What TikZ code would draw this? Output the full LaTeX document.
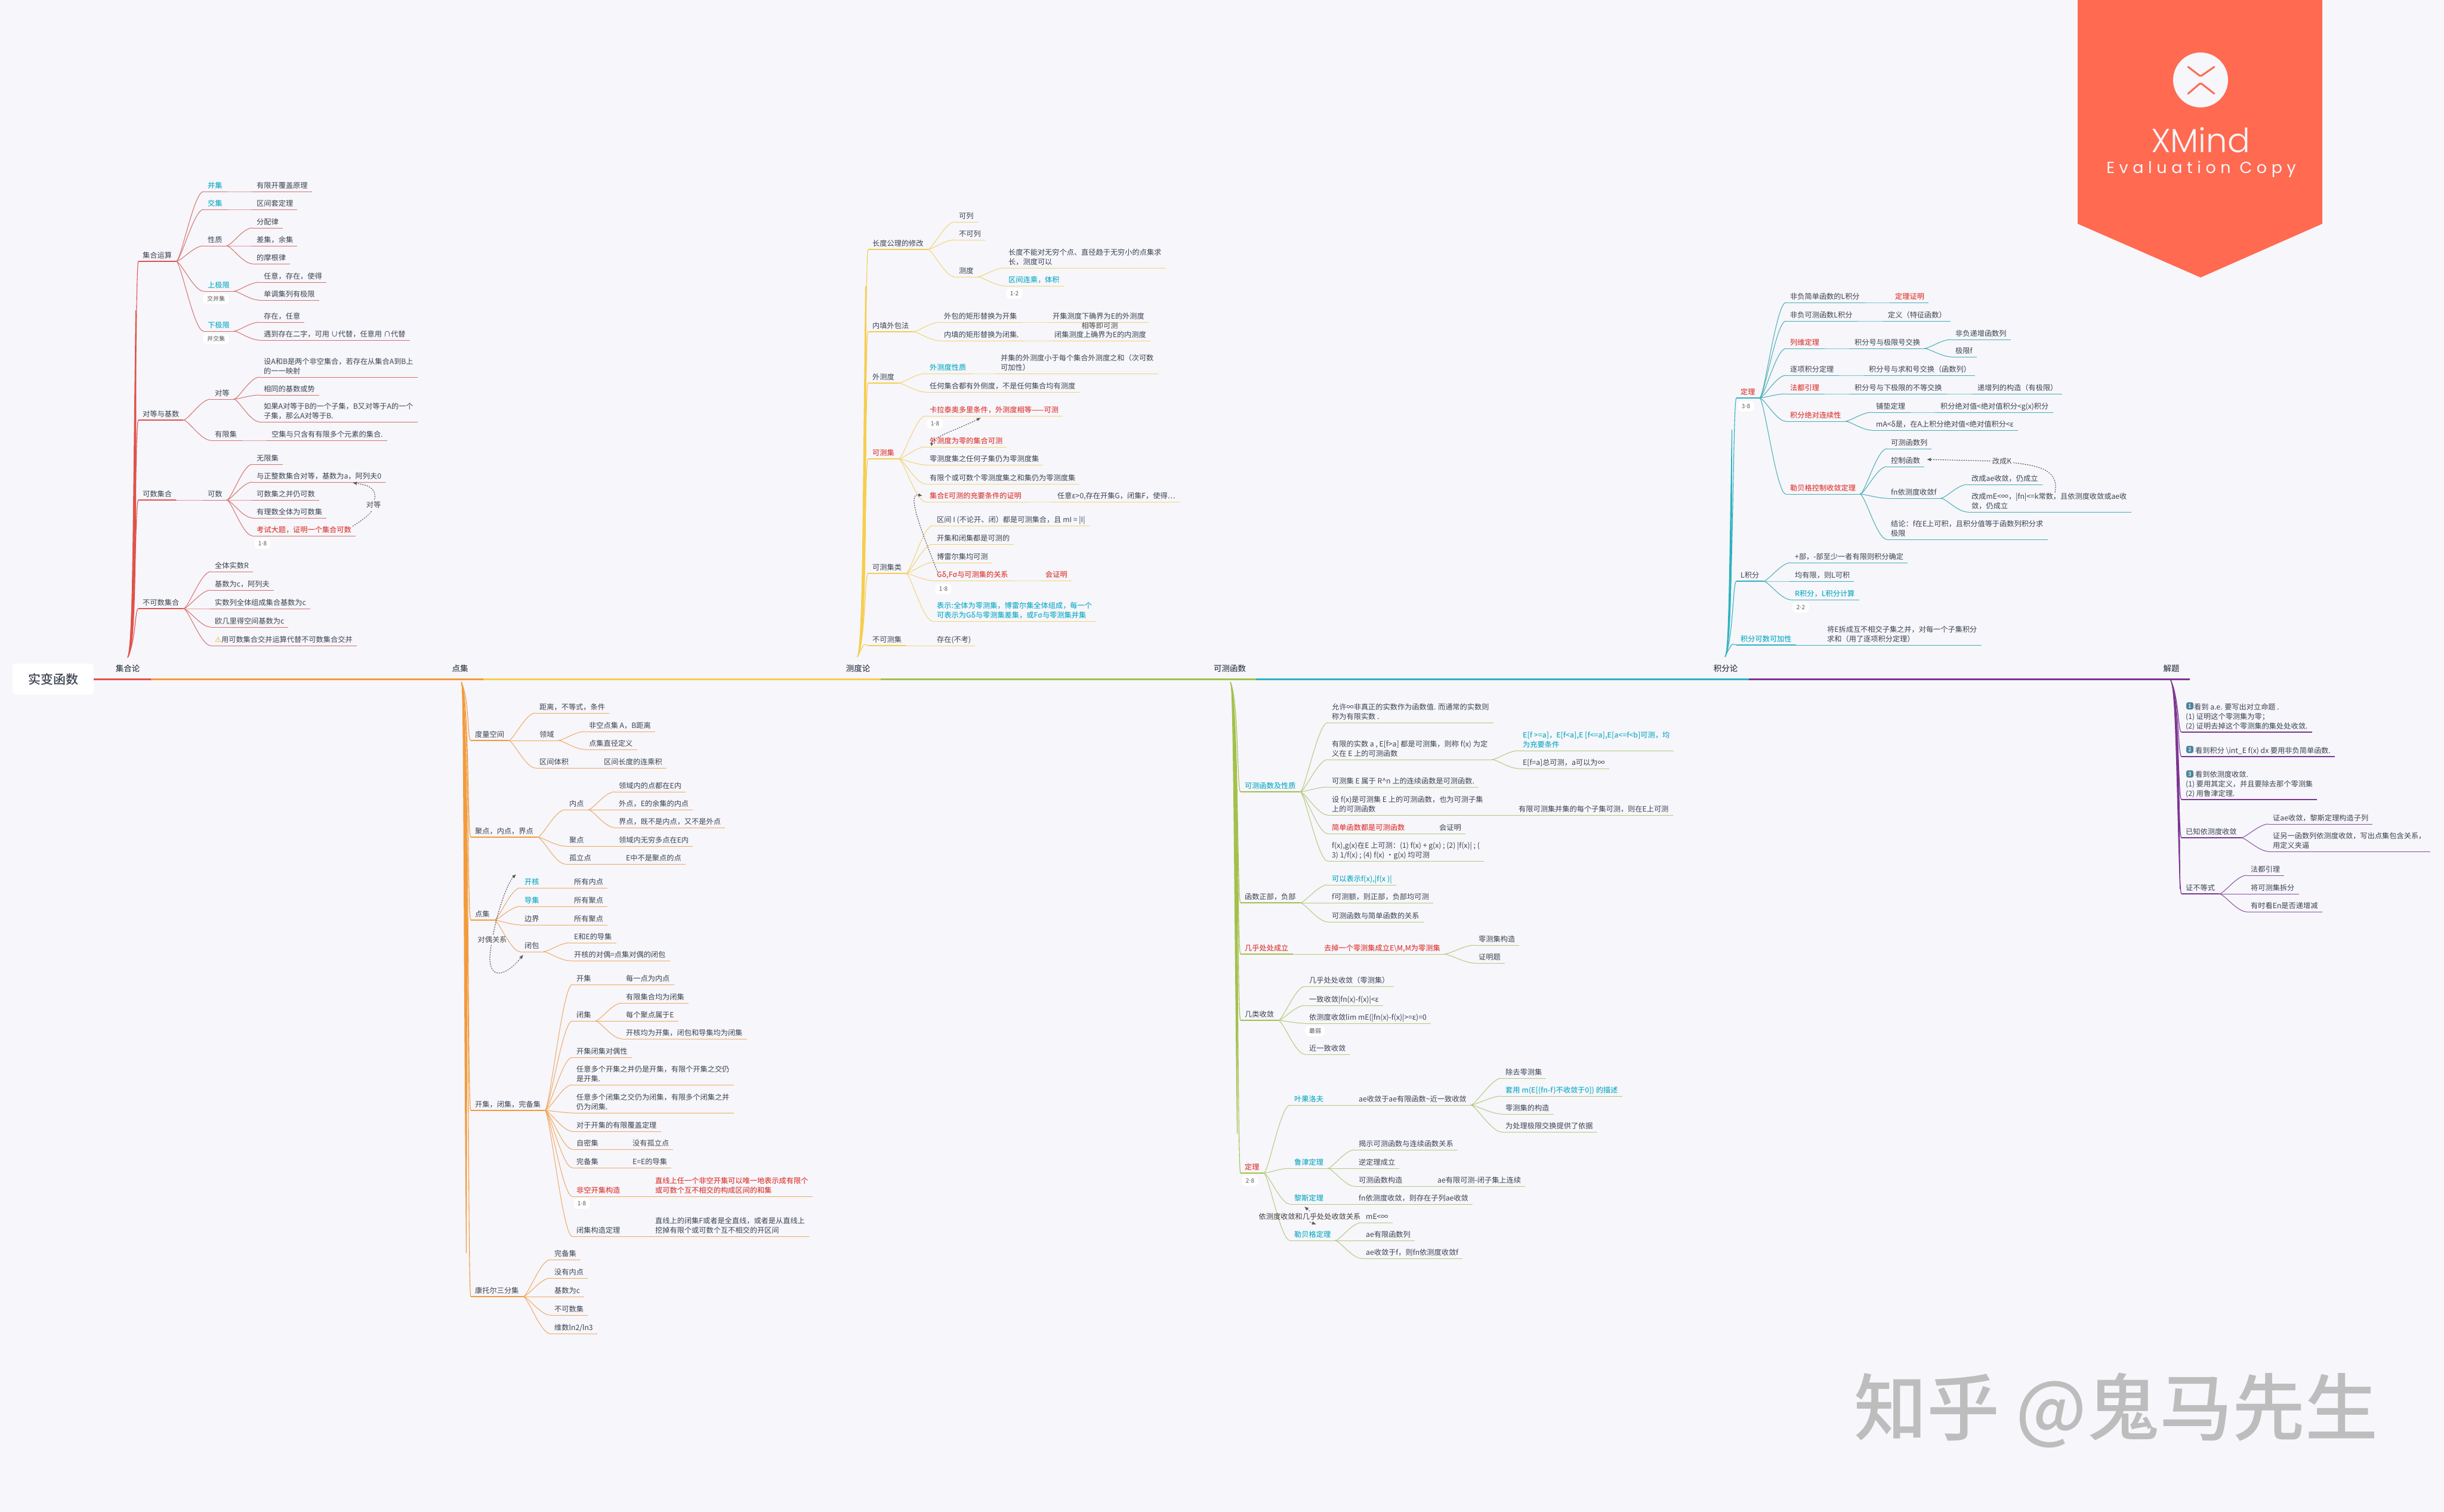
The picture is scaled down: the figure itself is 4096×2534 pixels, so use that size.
\documentclass[tikz,border=0pt]{standalone}
\usepackage{fontspec}
\setmainfont[BoldFont={Noto Sans CJK SC Medium}]{Noto Sans CJK SC}
\newfontfamily\symf{DejaVu Sans}
\newfontfamily\xmf[UprightFont={* Light}]{Poppins}
\newfontfamily\evf[LetterSpace=28]{Poppins}
\newcommand{\mdot}{{\symf·}}
\usepackage{xcolor}
\usetikzlibrary{arrows.meta, positioning}
\usetikzlibrary{calc}
\definecolor{bgc}{HTML}{F6F6FB}
\definecolor{txt}{HTML}{3C4350}
\definecolor{cyn}{HTML}{1FB0C6}
\definecolor{rdt}{HTML}{E0453F}
\definecolor{colr}{HTML}{E0524A}
\definecolor{colrl}{HTML}{D9706B}
\definecolor{colo}{HTML}{F29A3C}
\definecolor{colol}{HTML}{F2A85E}
\definecolor{coly}{HTML}{F6CD4E}
\definecolor{colyl}{HTML}{F3D372}
\definecolor{colg}{HTML}{A3C04A}
\definecolor{colgl}{HTML}{B5C97A}
\definecolor{colt}{HTML}{2FB2BD}
\definecolor{coltl}{HTML}{45AEB3}
\definecolor{colp}{HTML}{7D3491}
\definecolor{colpl}{HTML}{8D4AA0}
\definecolor{badge}{HTML}{FF6A50}
\tikzset{
  every node/.style={font=\fontsize{12.2}{16}\selectfont,text=txt},
  tp/.style={anchor=south west,inner xsep=7pt,inner ysep=4.3pt,text depth=1.2pt,align=left,
    append after command={(\tikzlastnode.south west) edge[line width=2pt,bc] (\tikzlastnode.south east)}},
  st/.style={anchor=south west,inner xsep=7pt,inner ysep=4.3pt,text depth=1.2pt,align=left,
    append after command={(\tikzlastnode.south west) edge[line width=1pt,bl] (\tikzlastnode.south east)}},
  cy/.style={text=cyn,font=\fontsize{12.2}{16}\selectfont\bfseries},
  rd/.style={text=rdt,font=\fontsize{12.2}{16}\selectfont\bfseries},
  bd/.style={fill=white,draw=black!5,rounded corners=5pt,minimum height=18pt,inner xsep=7pt,inner ysep=0pt,
    font=\fontsize{10}{12}\selectfont,text=black!65},
  lk/.style={line width=1pt,bl,to path={(\tikztostart.south east) .. controls ($(\tikztostart.south east)+(8,0)$) and ($(\tikztotarget.south west)+(-16,0)$) .. (\tikztotarget.south west)}},
  tu/.style={line width=1.1pt,bc,to path={(\tikztostart) .. controls ($(\tikztostart)+(14,-30)$) and ($(\tikztotarget.south west)+(-6,0)$) .. (\tikztotarget.south west)}},
  td/.style={line width=1.1pt,bc,to path={(\tikztostart) .. controls ($(\tikztostart)+(14,30)$) and ($(\tikztotarget.south west)+(-6,0)$) .. (\tikztotarget.south west)}},
  ml/.style={line width=3pt},
  hd/.style={font=\fontsize{13.5}{16}\selectfont\bfseries},
  rel/.style={black!65,line width=1.2pt,dash pattern=on 1.3pt off 2.6pt,line cap=round,-{Latex[length=7pt,width=6pt]}},
  rln/.style={black!65,line width=1.2pt,dash pattern=on 1.3pt off 2.6pt,line cap=round},
  nic/.style={fill=blue!30!cyan!45!black!70,rounded corners=3pt,minimum size=12pt,inner sep=0pt,text=white,font=\fontsize{9}{10}\selectfont\bfseries}
}
\begin{document}
\begin{tikzpicture}[x=1pt,y=-1pt]
\useasboundingbox (0,0) rectangle (4096,2534);
\fill[bgc] (0,0) rectangle (4096,2534);

% badge
\fill[badge] (3482,0) -- (3892,0) -- (3892,375) -- (3688,465) -- (3482,375) -- cycle;
\fill[bgc] (3688,134) circle (46);
\draw[badge,line width=3pt,line cap=round,rounded corners=2pt] (3667,112) -- (3688,128) -- (3711,112);
\draw[badge,line width=3pt,line cap=round,rounded corners=2pt] (3667,157) -- (3688,139) -- (3711,157);
\node[font=\fontsize{56}{60}\xmf,text=bgc,anchor=base](xmind) at (3688,255) {XMind};
\node[font=\fontsize{27}{30}\evf,text=bgc,anchor=base](evalc) at (3689,290) {Evaluation Copy};

% watermark
\node[font=\fontsize{122}{130}\selectfont\bfseries,text=black!26,anchor=west](zhihu) at (3104,2364) {知乎 @鬼马先生};

% main line
\node[fill=white,rounded corners=6pt,minimum width=136pt,minimum height=52pt,font=\fontsize{21}{24}\selectfont\bfseries](main) at (89,1138) {实变函数};
\node[hd](rh) at (214,1120) {集合论};
\node[hd](oh) at (771,1120) {点集};
\node[hd](yh) at (1438,1120) {测度论};
\node[hd](gh) at (2061,1120) {可测函数};
\node[hd](th) at (2892,1120) {积分论};
\node[hd](ph) at (3639,1120) {解题};
\coordinate (m1) at (253,1138);
\coordinate (m2) at (810,1138);
\coordinate (m3) at (1476,1138);
\coordinate (m4) at (2105,1138);
\coordinate (m5) at (2931,1138);
\coordinate (m6) at (3670,1138);
\draw[ml,colr] (main.east) -- (m1);
\draw[ml,colo] (m1) -- (m2);
\draw[ml,coly] (m2) -- (m3);
\draw[ml,colg] (m3) -- (m4);
\draw[ml,colt] (m4) -- (m5);
\draw[ml,colp] (m5) -- (m6);

% red
\begin{scope}
\colorlet{bc}{colr}\colorlet{bl}{colrl}
\coordinate (tipr) at (214,1102);
\fill[bc] (tipr) .. controls (222,1090) and (222,900) .. (227,520) -- (228.5,520) .. controls (228,900) and (230,1090) .. (tipr);
\node[tp](r1) at (232,438) {集合运算};
\node[st,cy](r1a) at (341,321) {并集};
\node[st](r1a1) at (423,321) {有限开覆盖原理};
\node[st,cy](r1b) at (341,351) {交集};
\node[st](r1b1) at (423,351) {区间套定理};
\node[st](r1c) at (341,412) {性质};
\node[st](r1c1) at (423,382) {分配律};
\node[st](r1c2) at (423,412) {差集，余集};
\node[st](r1c3) at (423,442) {的摩根律};
\node[st,cy](r1d) at (341,488) {上极限};
\node[bd](r1db) at (362,501) {交并集};
\node[st](r1d1) at (435,473) {任意，存在，使得};
\node[st](r1d2) at (435,503) {单调集列有极限};
\node[st,cy](r1e) at (341,555) {下极限};
\node[bd](r1eb) at (362,568) {并交集};
\node[st](r1e1) at (435,540) {存在，任意};
\node[st](r1e2) at (435,570) {遇到存在二字，可用 ∪代替，任意用 ∩代替};
\node[tp](r2) at (232,704) {对等与基数};
\node[st](r2a) at (353,669) {对等};
\node[st](r2a1) at (435,632) {设A和B是两个非空集合，若存在从集合A到B上\\的一一映射};
\node[st](r2a2) at (435,662) {相同的基数或势};
\node[st](r2a3) at (435,707) {如果A对等于B的一个子集，B又对等于A的一个\\子集，那么A对等于B.};
\node[st](r2b) at (353,738) {有限集};
\node[st](r2b1) at (448,738) {空集与只含有有限多个元素的集合.};
\node[tp](r3) at (232,838) {可数集合};
\node[st](r3a) at (341,838) {可数};
\node[st](r3a1) at (423,778) {无限集};
\node[st](r3a2) at (423,808) {与正整数集合对等，基数为a，阿列夫0};
\node[st](r3a3) at (423,838) {可数集之并仍可数};
\node[st](r3a4) at (423,868) {有理数全体为可数集};
\node[st,rd](r3a5) at (423,898) {考试大题，证明一个集合可数};
\node[bd](r3a5b) at (440,911) {1\mdot8};
\node[tp](r4) at (232,1020) {不可数集合};
\node[st](r4a) at (353,958) {全体实数R};
\node[st](r4b) at (353,989) {基数为c，阿列夫};
\node[st](r4c) at (353,1020) {实数列全体组成集合基数为c};
\node[st](r4d) at (353,1051) {欧几里得空间基数为c};
\node[st](r4e) at (353,1082) {{\symf\bfseries\color{orange!70!yellow}⚠}用可数集合交并运算代替不可数集合交并};
\draw[tu] (tipr) to (r1);
\draw[tu] (tipr) to (r2);
\draw[tu] (tipr) to (r3);
\draw[tu] (tipr) to (r4);
\draw[lk] (r1) to (r1a);
\draw[lk] (r1) to (r1b);
\draw[lk] (r1) to (r1c);
\draw[lk] (r1) to (r1d);
\draw[lk] (r1) to (r1e);
\draw[lk] (r1a) to (r1a1);
\draw[lk] (r1b) to (r1b1);
\draw[lk] (r1c) to (r1c1);
\draw[lk] (r1c) to (r1c2);
\draw[lk] (r1c) to (r1c3);
\draw[lk] (r1d) to (r1d1);
\draw[lk] (r1d) to (r1d2);
\draw[lk] (r1e) to (r1e1);
\draw[lk] (r1e) to (r1e2);
\draw[lk] (r2) to (r2a);
\draw[lk] (r2) to (r2b);
\draw[lk] (r2a) to (r2a1);
\draw[lk] (r2a) to (r2a2);
\draw[lk] (r2a) to (r2a3);
\draw[lk] (r2b) to (r2b1);
\draw[lk] (r3) to (r3a);
\draw[lk] (r3a) to (r3a1);
\draw[lk] (r3a) to (r3a2);
\draw[lk] (r3a) to (r3a3);
\draw[lk] (r3a) to (r3a4);
\draw[lk] (r3a) to (r3a5);
\draw[lk] (r4) to (r4a);
\draw[lk] (r4) to (r4b);
\draw[lk] (r4) to (r4c);
\draw[lk] (r4) to (r4d);
\draw[lk] (r4) to (r4e);
\node[text=black!70](r3rel) at (626,846) {对等};
\coordinate (r3s) at (591,882);
\coordinate (r3e) at (591,809);
\draw[rln] (r3s) .. controls (610,870) and (622,860) .. (r3rel);
\draw[rel] (r3rel) .. controls (632,815) and (610,812) .. (r3e);
\end{scope}

% orange
\begin{scope}
\colorlet{bc}{colo}\colorlet{bl}{colol}
\coordinate (tipo) at (773,1143);
\fill[bc] (tipo) .. controls (777,1160) and (776,1500) .. (781,2100) -- (782,2100) .. controls (784,1500) and (784,1160) .. (tipo);
\node[tp](o1) at (789,1241) {度量空间};
\node[st](o1a) at (897,1195) {距离，不等式，条件};
\node[st](o1b) at (897,1241) {领域};
\node[st](o1b1) at (980,1226) {非空点集 A，B距离};
\node[st](o1b2) at (980,1256) {点集直径定义};
\node[st](o1c) at (897,1287) {区间体积};
\node[st](o1c1) at (1005,1287) {区间长度的连乘积};
\node[tp](o2) at (789,1403) {聚点，内点，界点};
\node[st](o2a) at (947,1357) {内点};
\node[st](o2a1) at (1030,1327) {领域内的点都在E内};
\node[st](o2a2) at (1030,1357) {外点，E的余集的内点};
\node[st](o2a3) at (1030,1387) {界点，既不是内点，又不是外点};
\node[st](o2b) at (947,1418) {聚点};
\node[st](o2b1) at (1030,1418) {领域内无穷多点在E内};
\node[st](o2c) at (947,1448) {孤立点};
\node[st](o2c1) at (1042,1448) {E中不是聚点的点};
\node[tp](o3) at (789,1542) {点集};
\node[st,cy](o3a) at (872,1488) {开核};
\node[st](o3a1) at (955,1488) {所有内点};
\node[st,cy](o3b) at (872,1519) {导集};
\node[st](o3b1) at (955,1519) {所有聚点};
\node[st](o3c) at (872,1550) {边界};
\node[st](o3c1) at (955,1550) {所有聚点};
\node[st](o3d) at (872,1595) {闭包};
\node[st](o3d1) at (955,1580) {E和E的导集};
\node[st](o3d2) at (955,1610) {开核的对偶=点集对偶的闭包};
\node[tp](o4) at (789,1861) {开集，闭集，完备集};
\node[st](o4a) at (959,1650) {开集};
\node[st](o4a1) at (1042,1650) {每一点为内点};
\node[st](o4b) at (959,1711) {闭集};
\node[st](o4b1) at (1042,1681) {有限集合均为闭集};
\node[st](o4b2) at (1042,1711) {每个聚点属于E};
\node[st](o4b3) at (1042,1741) {开核均为开集，闭包和导集均为闭集};
\node[st](o4c) at (959,1772) {开集闭集对偶性};
\node[st](o4d) at (959,1818) {任意多个开集之并仍是开集，有限个开集之交仍\\是开集.};
\node[st](o4e) at (959,1865) {任意多个闭集之交仍为闭集，有限多个闭集之并\\仍为闭集.};
\node[st](o4f) at (959,1896) {对于开集的有限覆盖定理};
\node[st](o4g) at (959,1926) {自密集};
\node[st](o4g1) at (1053,1926) {没有孤立点};
\node[st](o4h) at (959,1957) {完备集};
\node[st](o4h1) at (1053,1957) {E=E的导集};
\node[st,rd](o4i) at (959,2005) {非空开集构造};
\node[bd](o4ib) at (975,2017) {1\mdot8};
\node[st,rd](o4i1) at (1091,2005) {直线上任一个非空开集可以唯一地表示成有限个\\或可数个互不相交的构成区间的和集};
\node[st](o4j) at (959,2072) {闭集构造定理};
\node[st](o4j1) at (1091,2072) {直线上的闭集F或者是全直线，或者是从直线上\\挖掉有限个或可数个互不相交的开区间};
\node[tp](o5) at (789,2173) {康托尔三分集};
\node[st](o5a) at (922,2111) {完备集};
\node[st](o5b) at (922,2142) {没有内点};
\node[st](o5c) at (922,2173) {基数为c};
\node[st](o5d) at (922,2204) {不可数集};
\node[st](o5e) at (922,2235) {维数ln2/ln3};
\draw[td] (tipo) to (o1);
\draw[td] (tipo) to (o2);
\draw[td] (tipo) to (o3);
\draw[td] (tipo) to (o4);
\draw[td] (tipo) to (o5);
\draw[lk] (o1) to (o1a);
\draw[lk] (o1) to (o1b);
\draw[lk] (o1) to (o1c);
\draw[lk] (o1b) to (o1b1);
\draw[lk] (o1b) to (o1b2);
\draw[lk] (o1c) to (o1c1);
\draw[lk] (o2) to (o2a);
\draw[lk] (o2) to (o2b);
\draw[lk] (o2) to (o2c);
\draw[lk] (o2a) to (o2a1);
\draw[lk] (o2a) to (o2a2);
\draw[lk] (o2a) to (o2a3);
\draw[lk] (o2b) to (o2b1);
\draw[lk] (o2c) to (o2c1);
\draw[lk] (o3) to (o3a);
\draw[lk] (o3) to (o3b);
\draw[lk] (o3) to (o3c);
\draw[lk] (o3) to (o3d);
\draw[lk] (o3a) to (o3a1);
\draw[lk] (o3b) to (o3b1);
\draw[lk] (o3c) to (o3c1);
\draw[lk] (o3d) to (o3d1);
\draw[lk] (o3d) to (o3d2);
\draw[lk] (o4) to (o4a);
\draw[lk] (o4) to (o4b);
\draw[lk] (o4) to (o4c);
\draw[lk] (o4) to (o4d);
\draw[lk] (o4) to (o4e);
\draw[lk] (o4) to (o4f);
\draw[lk] (o4) to (o4g);
\draw[lk] (o4) to (o4h);
\draw[lk] (o4) to (o4i);
\draw[lk] (o4) to (o4j);
\draw[lk] (o4a) to (o4a1);
\draw[lk] (o4b) to (o4b1);
\draw[lk] (o4b) to (o4b2);
\draw[lk] (o4b) to (o4b3);
\draw[lk] (o4g) to (o4g1);
\draw[lk] (o4h) to (o4h1);
\draw[lk] (o4i) to (o4i1);
\draw[lk] (o4j) to (o4j1);
\draw[lk] (o5) to (o5a);
\draw[lk] (o5) to (o5b);
\draw[lk] (o5) to (o5c);
\draw[lk] (o5) to (o5d);
\draw[lk] (o5) to (o5e);
\node[text=black!70](o3rel) at (825,1575) {对偶关系};
\coordinate (o3e1) at (865,1465);
\coordinate (o3e2) at (877,1600);
\draw[rel] (o3rel) .. controls (833,1530) and (850,1480) .. (o3e1);
\draw[rel] (o3rel) .. controls (812,1645) and (845,1640) .. (o3e2);
\end{scope}

% yellow
\begin{scope}
\colorlet{bc}{coly}\colorlet{bl}{colyl}
\coordinate (tipy) at (1437,1101);
\fill[bc] (tipy) .. controls (1445,1090) and (1445,900) .. (1450,480) -- (1452,480) .. controls (1452,900) and (1452,1090) .. (tipy);
\node[tp](y1) at (1455,418) {长度公理的修改};
\node[st](y1a) at (1600,372) {可列};
\node[st](y1b) at (1600,402) {不可列};
\node[st](y1c) at (1600,464) {测度};
\node[st](y1c1) at (1683,449) {长度不能对无穷个点、直径趋于无穷小的点集求\\长，测度可以};
\node[st,cy](y1c2) at (1683,479) {区间连乘，体积};
\node[bd](y1c2b) at (1700,492) {1\mdot2};
\node[tp](y2) at (1455,556) {内填外包法};
\node[st](y2a) at (1575,540) {外包的矩形替换为开集};
\node[st](y2a1) at (1757,540) {开集测度下确界为E的外测度};
\node[st](y2b) at (1575,571) {内填的矩形替换为闭集.};
\node[st](y2b1) at (1760,571) {闭集测度上确界为E的内测度};
\node[text=black!70](y2n) at (1843,546) {相等即可测};
\node[tp](y3) at (1455,642) {外测度};
\node[st,cy](y3a) at (1551,626) {外测度性质};
\node[st](y3a1) at (1670,626) {并集的外测度小于每个集合外测度之和（次可数\\可加性）};
\node[st](y3b) at (1551,657) {任何集合都有外侧度，不是任何集合均有测度};
\node[tp,rd](y4) at (1455,769) {可测集};
\node[st,rd](y4a) at (1551,697) {卡拉泰奥多里条件，外测度相等——可测};
\node[bd](y4ab) at (1567,710) {1\mdot8};
\node[st,rd](y4b) at (1551,749) {外测度为零的集合可测};
\node[st](y4c) at (1551,779) {零测度集之任何子集仍为零测度集};
\node[st](y4d) at (1551,811) {有限个或可数个零测度集之和集仍为零测度集};
\node[st,rd](y4e) at (1551,841) {集合E可测的充要条件的证明};
\node[st](y4e1) at (1765,841) {任意ε>0,存在开集G，闭集F，使得…};
\node[tp](y5) at (1455,961) {可测集类};
\node[st](y5a) at (1563,881) {区间 I (不论开、闭）都是可测集合，且 mI = |I|};
\node[st](y5b) at (1563,912) {开集和闭集都是可测的};
\node[st](y5c) at (1563,943) {博雷尔集均可测};
\node[st,rd](y5d) at (1563,973) {Gδ,Fσ与可测集的关系};
\node[bd](y5db) at (1581,987) {1\mdot8};
\node[st,rd](y5d1) at (1745,973) {会证明};
\node[st,cy](y5e) at (1563,1041) {表示:全体为零测集，博雷尔集全体组成，每一个\\可表示为Gδ与零测集差集，或Fσ与零测集并集};
\node[tp](y6) at (1455,1082) {不可测集};
\node[st](y6a) at (1563,1082) {存在(不考)};
\draw[tu] (tipy) to (y1);
\draw[tu] (tipy) to (y2);
\draw[tu] (tipy) to (y3);
\draw[tu] (tipy) to (y4);
\draw[tu] (tipy) to (y5);
\draw[tu] (tipy) to (y6);
\draw[lk] (y1) to (y1a);
\draw[lk] (y1) to (y1b);
\draw[lk] (y1) to (y1c);
\draw[lk] (y1c) to (y1c1);
\draw[lk] (y1c) to (y1c2);
\draw[lk] (y2) to (y2a);
\draw[lk] (y2) to (y2b);
\draw[lk] (y2a) to (y2a1);
\draw[lk] (y2b) to (y2b1);
\draw[lk] (y3) to (y3a);
\draw[lk] (y3) to (y3b);
\draw[lk] (y3a) to (y3a1);
\draw[lk] (y4) to (y4a);
\draw[lk] (y4) to (y4b);
\draw[lk] (y4) to (y4c);
\draw[lk] (y4) to (y4d);
\draw[lk] (y4) to (y4e);
\draw[lk] (y4e) to (y4e1);
\draw[lk] (y5) to (y5a);
\draw[lk] (y5) to (y5b);
\draw[lk] (y5) to (y5c);
\draw[lk] (y5) to (y5d);
\draw[lk] (y5) to (y5e);
\draw[lk] (y5d) to (y5d1);
\draw[lk] (y6) to (y6a);
\coordinate (y4s) at (1561,748);
\coordinate (y4t) at (1644,700);
\coordinate (y5s) at (1571,958);
\coordinate (y5t) at (1546,831);
\draw[rel,{Latex[length=5pt,width=5pt]}-{Latex[length=7pt,width=6pt]}] (y4s) .. controls (1563,732) and (1600,722) .. (y4t);
\draw[rel] (y5s) .. controls (1540,880) and (1520,825) .. (y5t);
\end{scope}

% green
\begin{scope}
\colorlet{bc}{colg}\colorlet{bl}{colgl}
\coordinate (tipg) at (2062,1143);
\fill[bc] (tipg) .. controls (2067,1160) and (2068,1500) .. (2073,1900) -- (2074,1900) .. controls (2075,1500) and (2074,1160) .. (tipg);
\node[tp,cy](g1) at (2079,1327) {可测函数及性质};
\node[st](g1a) at (2225,1211) {允许∞非真正的实数作为函数值. 而通常的实数则\\称为有限实数 .};
\node[st](g1b) at (2225,1273) {有限的实数 a , E[f>a] 都是可测集，则称 f(x) 为定\\义在 E 上的可测函数};
\node[st,cy](g1b1) at (2545,1258) {E[f >=a]，E[f<a],E [f<=a],E[a<=f<b]可测，均\\为充要条件};
\node[st](g1b2) at (2545,1288) {E[f=a]总可测，a可以为∞};
\node[st](g1c) at (2225,1319) {可测集 E 属于 R\^{}n 上的连续函数是可测函数.};
\node[st](g1d) at (2225,1366) {设 f(x)是可测集 E 上的可测函数，也为可测子集\\上的可测函数};
\node[st](g1d1) at (2538,1366) {有限可测集并集的每个子集可测，则在E上可测};
\node[st,rd](g1e) at (2225,1397) {简单函数都是可测函数};
\node[st](g1e1) at (2405,1397) {会证明};
\node[st](g1f) at (2225,1443) {f(x),g(x)在E 上可测：(1) f(x) + g(x) ; (2) |f(x)| ; (\\3) 1/f(x) ; (4) f(x) •g(x) 均可测};
\node[tp](g2) at (2079,1513) {函数正部，负部};
\node[st,cy](g2a) at (2225,1483) {可以表示f(x),|f(x )|};
\node[st](g2b) at (2225,1513) {f可测额，则正部，负部均可测};
\node[st](g2c) at (2225,1545) {可测函数与简单函数的关系};
\node[tp,rd](g3) at (2079,1599) {几乎处处成立};
\node[st,rd](g3a) at (2212,1599) {去掉一个零测集成立E\textbackslash M,M为零测集};
\node[st](g3a1) at (2471,1584) {零测集构造};
\node[st](g3a2) at (2471,1614) {证明题};
\node[tp](g4) at (2079,1710) {几类收敛};
\node[st](g4a) at (2187,1653) {几乎处处收敛（零测集）};
\node[st](g4b) at (2187,1685) {一致收敛|fn(x)-f(x)|<ε};
\node[st](g4c) at (2187,1715) {依测度收敛lim mE(|fn(x)-f(x)|>=ε)=0};
\node[bd](g4cb) at (2204,1728) {最弱};
\node[st](g4d) at (2187,1767) {近一致收敛};
\node[tp,rd](g5) at (2079,1966) {定理};
\node[bd](g5b) at (2095,1979) {2\mdot8};
\node[st,cy](g5a) at (2162,1852) {叶果洛夫};
\node[st](g5a1) at (2270,1852) {ae收敛于ae有限函数\textasciitilde 近一致收敛};
\node[st](g5a11) at (2516,1807) {除去零测集};
\node[st,cy](g5a12) at (2516,1837) {套用 m(E[(fn-f)不收敛于0]) 的描述};
\node[st](g5a13) at (2516,1867) {零测集的构造};
\node[st](g5a14) at (2516,1897) {为处理极限交换提供了依据};
\node[st,cy](g5c) at (2162,1958) {鲁津定理};
\node[st](g5c1) at (2270,1927) {揭示可测函数与连续函数关系};
\node[st](g5c2) at (2270,1958) {逆定理成立};
\node[st](g5c3) at (2270,1988) {可测函数构造};
\node[st](g5c31) at (2402,1988) {ae有限可测-闭子集上连续};
\node[st,cy](g5d) at (2162,2018) {黎斯定理};
\node[st](g5d1) at (2270,2018) {fn依测度收敛，则存在子列ae收敛};
\node[st,cy](g5e) at (2162,2079) {勒贝格定理};
\node[st](g5e1) at (2282,2049) {mE<∞};
\node[st](g5e2) at (2282,2079) {ae有限函数列};
\node[st](g5e3) at (2282,2109) {ae收敛于f，则fn依测度收敛f};
\draw[td] (tipg) to (g1);
\draw[td] (tipg) to (g2);
\draw[td] (tipg) to (g3);
\draw[td] (tipg) to (g4);
\draw[td] (tipg) to (g5);
\draw[lk] (g1) to (g1a);
\draw[lk] (g1) to (g1b);
\draw[lk] (g1) to (g1c);
\draw[lk] (g1) to (g1d);
\draw[lk] (g1) to (g1e);
\draw[lk] (g1) to (g1f);
\draw[lk] (g1b) to (g1b1);
\draw[lk] (g1b) to (g1b2);
\draw[lk] (g1d) to (g1d1);
\draw[lk] (g1e) to (g1e1);
\draw[lk] (g2) to (g2a);
\draw[lk] (g2) to (g2b);
\draw[lk] (g2) to (g2c);
\draw[lk] (g3) to (g3a);
\draw[lk] (g3a) to (g3a1);
\draw[lk] (g3a) to (g3a2);
\draw[lk] (g4) to (g4a);
\draw[lk] (g4) to (g4b);
\draw[lk] (g4) to (g4c);
\draw[lk] (g4) to (g4d);
\draw[lk] (g5) to (g5a);
\draw[lk] (g5) to (g5c);
\draw[lk] (g5) to (g5d);
\draw[lk] (g5) to (g5e);
\draw[lk] (g5a) to (g5a1);
\draw[lk] (g5a1) to (g5a11);
\draw[lk] (g5a1) to (g5a12);
\draw[lk] (g5a1) to (g5a13);
\draw[lk] (g5a1) to (g5a14);
\draw[lk] (g5c) to (g5c1);
\draw[lk] (g5c) to (g5c2);
\draw[lk] (g5c) to (g5c3);
\draw[lk] (g5c3) to (g5c31);
\draw[lk] (g5d) to (g5d1);
\draw[lk] (g5e) to (g5e1);
\draw[lk] (g5e) to (g5e2);
\draw[lk] (g5e) to (g5e3);
\node[text=black!75](g5rel) at (2195,2039) {依测度收敛和几乎处处收敛关系};
\coordinate (g5r1) at (2186,2022);
\coordinate (g5r2) at (2206,2052);
\draw[rel] (g5rel.north) -- (g5r1);
\draw[rel] (g5rel.south) -- (g5r2);
\end{scope}

% teal
\begin{scope}
\colorlet{bc}{colt}\colorlet{bl}{coltl}
\coordinate (tipt) at (2891,1101);
\fill[bc] (tipt) .. controls (2897,1090) and (2898,950) .. (2902,720) -- (2903,720) .. controls (2903,950) and (2902,1090) .. (tipt);
\node[tp,rd](t1) at (2910,667) {定理};
\node[bd](t1b) at (2926,681) {3\mdot8};
\node[st](t1a) at (2993,507) {非负简单函数的L积分};
\node[st,rd](t1a1) at (3169,507) {定理证明};
\node[st](t1c) at (2993,538) {非负可测函数L积分};
\node[st](t1c1) at (3157,538) {定义（特征函数）};
\node[st,rd](t1d) at (2993,584) {列维定理};
\node[st](t1d1) at (3101,584) {积分号与极限号交换};
\node[st](t1d11) at (3270,569) {非负递增函数列};
\node[st](t1d12) at (3270,598) {极限f};
\node[st](t1e) at (2993,629) {逐项积分定理};
\node[st](t1e1) at (3125,629) {积分号与求和号交换（函数列）};
\node[st,rd](t1f) at (2993,660) {法都引理};
\node[st](t1f1) at (3101,660) {积分号与下极限的不等交换};
\node[st](t1f2) at (3307,660) {递增列的构造（有极限）};
\node[st,rd](t1g) at (2993,706) {积分绝对连续性};
\node[st](t1g1) at (3137,691) {铺垫定理};
\node[st](t1g11) at (3245,691) {积分绝对值<绝对值积分<g(x)积分};
\node[st](t1g2) at (3137,721) {mA<δ是，在A上积分绝对值<绝对值积分<ε};
\node[st,rd](t1h) at (2993,828) {勒贝格控制收敛定理};
\node[st](t1h1) at (3162,752) {可测函数列};
\node[st](t1h2) at (3162,782) {控制函数};
\node[st](t1h3) at (3162,835) {fn依测度收敛f};
\node[st](t1h31) at (3297,812) {改成ae收敛，仍成立};
\node[st](t1h32) at (3297,858) {改成mE<∞，|fn|<=k常数，且依测度收敛或ae收\\敛，仍成立};
\node[st](t1h4) at (3162,904) {结论：f在E上可积，且积分值等于函数列积分求\\极限};
\node[tp](t2) at (2910,974) {L积分};
\node[st](t2a) at (3001,943) {+部，-部至少一者有限则积分确定};
\node[st](t2b) at (3001,974) {均有限，则L可积};
\node[st,cy](t2c) at (3001,1005) {R积分，L积分计算};
\node[bd](t2cb) at (3018,1018) {2\mdot2};
\node[tp,cy](t3) at (2910,1081) {积分可数可加性};
\node[st](t3a) at (3055,1081) {将E拆成互不相交子集之并，对每一个子集积分\\求和（用了逐项积分定理）};
\draw[tu] (tipt) to (t1);
\draw[tu] (tipt) to (t2);
\draw[tu] (tipt) to (t3);
\draw[lk] (t1) to (t1a);
\draw[lk] (t1) to (t1c);
\draw[lk] (t1) to (t1d);
\draw[lk] (t1) to (t1e);
\draw[lk] (t1) to (t1f);
\draw[lk] (t1) to (t1g);
\draw[lk] (t1) to (t1h);
\draw[lk] (t1a) to (t1a1);
\draw[lk] (t1c) to (t1c1);
\draw[lk] (t1d) to (t1d1);
\draw[lk] (t1d1) to (t1d11);
\draw[lk] (t1d1) to (t1d12);
\draw[lk] (t1e) to (t1e1);
\draw[lk] (t1f) to (t1f1);
\draw[lk] (t1f1) to (t1f2);
\draw[lk] (t1g) to (t1g1);
\draw[lk] (t1g) to (t1g2);
\draw[lk] (t1g1) to (t1g11);
\draw[lk] (t1h) to (t1h1);
\draw[lk] (t1h) to (t1h2);
\draw[lk] (t1h) to (t1h3);
\draw[lk] (t1h) to (t1h4);
\draw[lk] (t1h3) to (t1h31);
\draw[lk] (t1h3) to (t1h32);
\draw[lk] (t2) to (t2a);
\draw[lk] (t2) to (t2b);
\draw[lk] (t2) to (t2c);
\draw[lk] (t3) to (t3a);
\node[text=black!70](t1rel) at (3355,773) {改成K};
\coordinate (t1s) at (3444,825);
\coordinate (t1t) at (3229,770);
\draw[rln] (t1s) .. controls (3452,785) and (3410,780) .. (t1rel);
\draw[rel] (t1rel) -- (t1t);
\end{scope}

% purple
\begin{scope}
\colorlet{bc}{colp}\colorlet{bl}{colpl}
\coordinate (tipp) at (3638,1140);
\fill[bc] (tipp) .. controls (3646,1160) and (3647,1300) .. (3653,1490) -- (3654,1490) .. controls (3653,1300) and (3651,1160) .. (tipp);
\node[tp](p1) at (3656,1227) {\hspace*{14pt}看到 a.e. 要写出对立命题 .\\(1) 证明这个零测集为零；\\(2) 证明去掉这个零测集的集处处收敛.};
\node[nic](p1n) at (3670,1183) {1};
\node[tp](p2) at (3656,1268) {\hspace*{16pt}看到积分 \textbackslash int\_E f(x) dx 要用非负简单函数.};
\node[nic](p2n) at (3670,1256) {2};
\node[tp](p3) at (3656,1340) {\hspace*{16pt}看到依测度收敛.\\(1) 要用其定义，并且要除去那个零测集\\(2) 用鲁津定理.};
\node[nic](p3n) at (3670,1297) {3};
\node[tp](p4) at (3656,1404) {已知依测度收敛};
\node[st](p4a) at (3802,1381) {证ae收敛，黎斯定理构造子列};
\node[st](p4b) at (3802,1427) {证另一函数列依测度收敛，写出点集包含关系，\\用定义夹逼};
\node[tp](p5) at (3656,1498) {证不等式};
\node[st](p5a) at (3765,1467) {法都引理};
\node[st](p5b) at (3765,1498) {将可测集拆分};
\node[st](p5c) at (3765,1528) {有时看En是否递增减};
\draw[td] (tipp) to (p1);
\draw[td] (tipp) to (p2);
\draw[td] (tipp) to (p3);
\draw[td] (tipp) to (p4);
\draw[td] (tipp) to (p5);
\draw[lk] (p4) to (p4a);
\draw[lk] (p4) to (p4b);
\draw[lk] (p5) to (p5a);
\draw[lk] (p5) to (p5b);
\draw[lk] (p5) to (p5c);
\end{scope}
\end{tikzpicture}
\end{document}
